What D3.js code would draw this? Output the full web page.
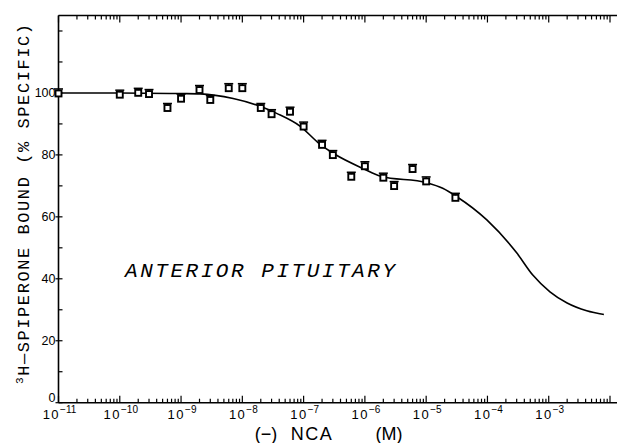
<!DOCTYPE html>
<html>
<head>
<meta charset="utf-8">
<script src="https://cdn.jsdelivr.net/npm/d3@7"></script>
<style>
  body { margin: 0; background: #fff; }
  svg text { fill: #000; }
</style>
</head>
<body>
<svg id="chart" width="617" height="443"></svg>
<script>
// measured points: concentration (M) and % specific binding
var conc = [1e-11, 1e-10, 2e-10, 3e-10, 6e-10, 1e-9, 2e-9, 3e-9, 6e-9, 1e-8,
            2e-8, 3e-8, 6e-8, 1e-7, 2e-7, 3e-7, 6e-7, 1e-6, 2e-6, 3e-6,
            6e-6, 1e-5, 3e-5];
var bound = [100, 99.6, 100.2, 99.8, 95.3, 98.3, 101.1, 97.9, 101.7, 101.7,
             95.3, 93.3, 94.1, 89.3, 83.4, 80.1, 73.1, 76.5, 72.8, 70.1,
             75.6, 71.6, 66.3];

// fitted curve (log10 M, % bound)
var fitLog = [-11, -10, -9, -8.69, -8.15, -7.71, -7.44, -7.06, -6.73, -6.49,
              -6.03, -5.74, -4.99, -4.73, -4.5, -4.01, -3.52, -3.26, -2.98,
              -2.7, -2.38, -2.1];
var fitVal = [100, 100, 99.8, 99.7, 98.2, 95.7, 93.4, 89.3, 83.4, 80.2,
              75.6, 73.1, 71, 69.2, 66.5, 59, 48.3, 41.2, 35.8,
              32.2, 29.7, 28.5];

var decades = [-11, -10, -9, -8, -7, -6, -5, -4, -3];
var yLabels = [0, 20, 40, 60, 80, 100];

var svg = d3.select("#chart");
var plotLeft = 58.5, plotRight = 610, plotTop = 15.5, plotBottom = 402.7;

var x = d3.scaleLog().domain([1e-11, 1e-2]).range([plotLeft, plotRight]);
var y = d3.scaleLinear().domain([0, 125]).range([plotBottom, plotTop]);

var ink = "#000";

// frame lines
svg.append("line").attr("x1", plotLeft).attr("x2", 617).attr("y1", plotBottom).attr("y2", plotBottom)
    .attr("stroke", ink).attr("stroke-width", 1.6);
svg.append("line").attr("x1", plotLeft).attr("x2", 617).attr("y1", plotTop).attr("y2", plotTop)
    .attr("stroke", ink).attr("stroke-width", 1.6);
svg.append("line").attr("x1", plotLeft).attr("x2", plotLeft).attr("y1", plotTop).attr("y2", plotBottom)
    .attr("stroke", ink).attr("stroke-width", 1.6);

// log ticks on top and bottom
var logTicks = [];
for (var e = -11; e < -2; e++) {
    for (var m = 1; m < 10; m++) logTicks.push({v: m * Math.pow(10, e), major: m === 1});
}
logTicks.push({v: 1e-2, major: true});

svg.append("g").selectAll("line").data(logTicks).join("line")
    .attr("x1", function(d) { return x(d.v); })
    .attr("x2", function(d) { return x(d.v); })
    .attr("y1", plotBottom)
    .attr("y2", function(d) { return plotBottom - (d.major ? 7 : 4); })
    .attr("stroke", ink).attr("stroke-width", 1.2);

svg.append("g").selectAll("line").data(logTicks).join("line")
    .attr("x1", function(d) { return x(d.v); })
    .attr("x2", function(d) { return x(d.v); })
    .attr("y1", plotTop)
    .attr("y2", function(d) { return plotTop + (d.major ? 7 : 4); })
    .attr("stroke", ink).attr("stroke-width", 1.2);

// decade labels: 10 with superscript exponent
var xl = svg.append("g").selectAll("text").data(decades).join("text")
    .attr("x", function(d) { return x(Math.pow(10, d)) + 1; })
    .attr("y", 419)
    .attr("text-anchor", "middle")
    .attr("font-family", "Liberation Sans, Arial, sans-serif")
    .attr("font-size", 13);
xl.append("tspan").attr("letter-spacing", 1.5).text("10");
xl.append("tspan").attr("dy", -6).attr("font-size", 10)
    .text(function(d) { return "\u2212" + (-d); });

// y ticks
svg.append("g").selectAll("line").data(d3.range(0, 130, 10)).join("line")
    .attr("x1", plotLeft).attr("x2", plotLeft + 4)
    .attr("y1", function(d) { return y(d); })
    .attr("y2", function(d) { return y(d); })
    .attr("stroke", ink).attr("stroke-width", 1.2);
svg.append("g").selectAll("line").data(yLabels).join("line")
    .attr("x1", plotLeft - 3).attr("x2", plotLeft)
    .attr("y1", function(d) { return y(d); })
    .attr("y2", function(d) { return y(d); })
    .attr("stroke", ink).attr("stroke-width", 1.2);
svg.append("g").selectAll("text").data(yLabels).join("text")
    .attr("x", plotLeft - 3)
    .attr("y", function(d) { return y(d) + (d === 0 ? -0.5 : 4.5); })
    .attr("text-anchor", "end")
    .attr("font-family", "Liberation Sans, Arial, sans-serif")
    .attr("font-size", 12.5)
    .text(function(d) { return d; });

// fitted curve
var line = d3.line()
    .x(function(d) { return x(Math.pow(10, d[0])); })
    .y(function(d) { return y(d[1]); })
    .curve(d3.curveMonotoneX);
svg.append("path")
    .datum(d3.zip(fitLog, fitVal))
    .attr("d", line)
    .attr("fill", "none").attr("stroke", ink).attr("stroke-width", 1.6);

// data markers: small squares with an error cap
var pts = svg.append("g").selectAll("g").data(d3.zip(conc, bound)).join("g")
    .attr("transform", function(d) { return "translate(" + x(d[0]) + "," + y(d[1]) + ")"; });
pts.append("rect")
    .attr("x", -3).attr("y", -2.5).attr("width", 6).attr("height", 6)
    .attr("fill", "#fff").attr("stroke", ink).attr("stroke-width", 1.9);
pts.append("line")
    .attr("x1", -4.5).attr("x2", 4.5).attr("y1", -4).attr("y2", -4)
    .attr("stroke", ink).attr("stroke-width", 1.5);
pts.append("line")
    .attr("x1", 0).attr("x2", 0).attr("y1", -4).attr("y2", -2)
    .attr("stroke", ink).attr("stroke-width", 1.2);

// annotation
svg.append("text")
    .attr("x", 125).attr("y", 277)
    .attr("font-family", "Liberation Mono, DejaVu Sans Mono, monospace")
    .attr("font-style", "italic")
    .attr("font-size", 21)
    .attr("textLength", 270)
    .attr("lengthAdjust", "spacing")
    .text("ANTERIOR PITUITARY");

// y axis title
var yt = svg.append("text")
    .attr("transform", "translate(29,204) rotate(-90)")
    .attr("text-anchor", "middle")
    .attr("font-family", "Liberation Mono, DejaVu Sans Mono, monospace")
    .attr("font-size", 17)
    .attr("textLength", 360)
    .attr("lengthAdjust", "spacing");
yt.append("tspan").attr("font-size", 11).attr("dy", -6).text("3");
yt.append("tspan").attr("dy", 6).text("H\u2014SPIPERONE BOUND  (% SPECIFIC)");

// x axis title
var xt = svg.append("g")
    .attr("font-family", "Liberation Sans, Arial, sans-serif")
    .attr("font-size", 18);
xt.append("text").attr("x", 266).attr("y", 440).attr("text-anchor", "middle").text("(\u2212)");
xt.append("text").attr("x", 312).attr("y", 440).attr("text-anchor", "middle")
    .attr("letter-spacing", 1.5).text("NCA");
xt.append("text").attr("x", 389).attr("y", 440).attr("text-anchor", "middle").text("(M)");
</script>
</body>
</html>
